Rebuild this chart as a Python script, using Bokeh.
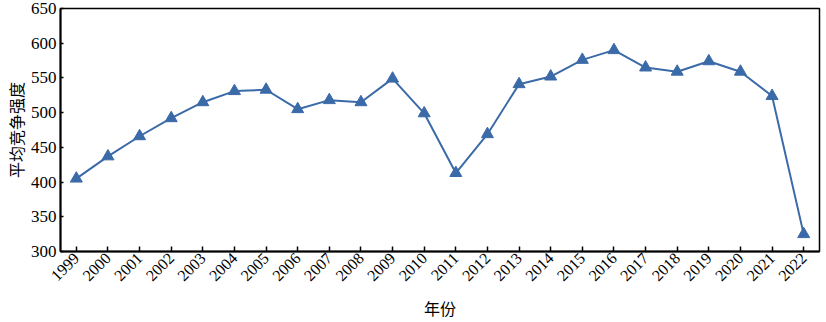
import math
from bokeh.plotting import figure
from bokeh.models import Range1d, FixedTicker
from bokeh.embed import file_html
from bokeh.resources import INLINE

years = list(range(1999, 2023))
values = [405, 437, 466, 492, 515, 531, 533, 505, 518, 515, 549, 499,
          413, 469, 541, 552, 576, 590, 565, 559, 574, 559, 524, 325]
y_ticks = [300, 350, 400, 450, 500, 550, 600, 650]

color = "#3b6aa8"

p = figure(width=826, height=322, output_backend="svg", toolbar_location=None,
           x_range=Range1d(1998.5, 2022.5), y_range=Range1d(300, 650),
           min_border_left=59, min_border_right=7, min_border_top=8, min_border_bottom=67)

p.line(years, values, line_color=color, line_width=2)
p.scatter(years, values, marker="triangle", size=12, fill_color=color, line_color=color)

p.xgrid.visible = False
p.ygrid.visible = False
p.outline_line_color = "black"
p.outline_line_width = 1.5

xa = p.xaxis[0]
ya = p.yaxis[0]

xa.ticker = FixedTicker(ticks=years)
xa.major_label_overrides = {y: str(y) for y in years}
xa.major_label_orientation = math.pi / 4
xa.major_tick_in = 5
xa.major_tick_out = 0
xa.minor_tick_line_color = None
xa.axis_label = "年份"
xa.axis_label_text_font = "Noto Sans CJK SC"
xa.axis_label_text_font_size = "16px"
xa.axis_label_text_font_style = "normal"
xa.axis_label_standoff = 7

ya.ticker = FixedTicker(ticks=y_ticks)
ya.major_tick_in = 3
ya.major_tick_out = 0
ya.minor_tick_line_color = None
ya.axis_label = "平均竞争强度"
ya.axis_label_text_font = "Noto Sans CJK SC"
ya.axis_label_text_font_size = "16px"
ya.axis_label_text_font_style = "normal"
ya.axis_label_standoff = 0

for ax in (xa, ya):
    ax.axis_line_width = 2
    ax.axis_line_color = "black"
    ax.major_tick_line_width = 1.5
    ax.major_tick_line_color = "black"
    ax.major_label_text_font = "Liberation Serif"
    ax.major_label_text_color = "black"
    ax.axis_label_text_color = "black"
xa.major_label_text_font_size = "16px"
ya.major_label_text_font_size = "17px"
xa.major_label_standoff = 4
ya.major_label_standoff = 4

open("out.html", "w").write(file_html(p, INLINE))
